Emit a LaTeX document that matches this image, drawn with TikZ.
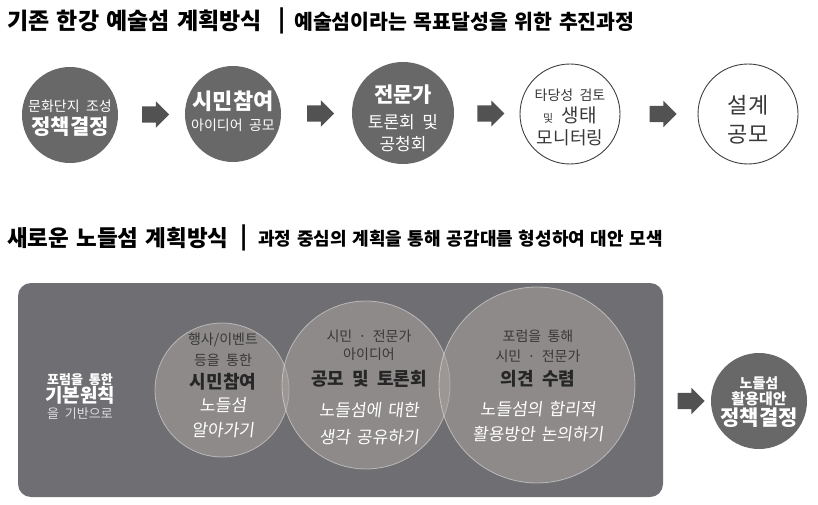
\documentclass[tikz,border=0pt]{standalone}
\usepackage{fontspec}
\setmainfont{Noto Sans CJK KR}[WordSpace=2]
\newfontfamily\headfont{Noto Sans CJK KR}[WordSpace=1.4]
\newfontfamily\handfont{Noto Sans CJK KR}[FakeSlant=0.12,WordSpace=1.6]
\usetikzlibrary{shapes.arrows,calc,positioning}

\definecolor{circgray}{HTML}{686868}
\definecolor{boxgray}{HTML}{6F6F73}
\definecolor{arrowgray}{HTML}{525252}
\definecolor{softgray}{RGB}{172,165,160}
\definecolor{inktext}{HTML}{383838}
\newcommand{\sz}[1]{\fontsize{#1}{#1}\selectfont}

\begin{document}
\begin{tikzpicture}[x=1pt,y=-1pt,
  darkdot/.style={circle, fill=circgray, inner sep=0pt},
  ringdot/.style={circle, draw=black!75, line width=0.9pt, fill=white, inner sep=0pt},
  blockarrow/.style={single arrow, fill=arrowgray, inner xsep=0pt, inner ysep=8pt, minimum height=27pt,
    single arrow head extend=5pt, single arrow tip angle=90},
  forum/.style={circle, fill=softgray, fill opacity=0.5, draw=white,
    draw opacity=0.45, line width=0.8pt, inner sep=0pt},
  heading/.style={anchor=west, inner sep=0pt, font=\headfont\bfseries},
  wtxt/.style={inner sep=0pt, yshift=-2.5pt, text=white},
  dtxt/.style={inner sep=0pt, yshift=-2.5pt, text=inktext},
  btxt/.style={inner sep=0pt, yshift=-2.5pt, text=black!85, font=\sz{18}\bfseries},
  htxt/.style={inner sep=0pt, yshift=-2pt, text=white, font=\handfont\sz{17}}]
\useasboundingbox[fill=white] (0,0) rectangle (818,505);

% top title
\node[heading] (h1) at (7,21) {\sz{23}기존 한강 예술섬 계획방식};
\node[heading] (bar1) at (278,21) {\sz{23}|};
\node[heading] (h1b) at (294,22) {\sz{20.5}예술섬이라는 목표달성을 위한 추진과정};

% old process
\node[darkdot, minimum size=96pt] (c1) at (70,115) {};
\node[darkdot, minimum size=96pt] (c2) at (233,114) {};
\node[darkdot, minimum size=102pt] (c3) at (403,113) {};
\node[ringdot, minimum size=100pt] (c4) at (570,114) {};
\node[ringdot, minimum size=100pt] (c5) at (748,114) {};

\node[wtxt, font=\sz{14}] (c1a) at (70,104) {문화단지 조성};
\node[wtxt, font=\sz{21}\bfseries] (c1b) at (70,124) {정책결정};
\node[wtxt, font=\sz{22}\bfseries] (c2a) at (233,99) {시민참여};
\node[wtxt, font=\sz{14}] (c2b) at (233,123) {아이디어 공모};
\node[wtxt, font=\sz{21}\bfseries] (c3a) at (403,92) {전문가};
\node[wtxt, font=\sz{17}] (c3b) at (403,120) {토론회 및};
\node[wtxt, font=\sz{17}] (c3c) at (403,142) {공청회};
\node[dtxt, font=\sz{14}] (c4a) at (570,93) {타당성 검토};
\node[dtxt, font=\sz{19}] (c4b) at (570,113) {{\sz{11}및} 생태};
\node[dtxt, font=\sz{18}] (c4c) at (570,135) {모니터링};
\node[dtxt, font=\sz{22}] (c5a) at (748,103) {설계};
\node[dtxt, font=\sz{22}] (c5b) at (748,132) {공모};

\node[blockarrow] (a1) at ($(c1.east)!0.5!(c2.west)$) {};
\node[blockarrow] (a2) at ($(c2.east)!0.5!(c3.west)$) {};
\node[blockarrow] (a3) at ($(c3.east)!0.5!(c4.west)$) {};
\node[blockarrow] (a4) at ($(c4.east)!0.5!(c5.west)$) {};

% second title
\node[heading] (h2) at (7,238) {\sz{22.5}새로운 노들섬 계획방식};
\node[heading] (bar2) at (240,238) {\sz{23}|};
\node[heading] (h2b) at (258,239) {\sz{18}과정 중심의 계획을 통해 공감대를 형성하여 대안 모색};

% new process
\node[fill=boxgray, rounded corners=13pt, minimum width=645pt, minimum height=214pt] (panel) at (340.5,390) {};
\node[wtxt, font=\sz{13}\bfseries] (base1) at (80,377) {포럼을 통한};
\node[wtxt, font=\sz{19}\bfseries] (base2) at (80,393) {기본원칙};
\node[wtxt, font=\sz{13}, text=white!75!gray] (base3) at (80,411) {을 기반으로};

\node[forum, minimum size=134pt] (fa) at (222,390) {};
\node[forum, minimum size=168pt] (fb) at (366,385) {};
\node[forum, minimum size=196pt] (fc) at (537,385) {};

\node[dtxt, font=\sz{14}] (fa1) at (223,337) {행사/이벤트};
\node[dtxt, font=\sz{14}] (fa2) at (223,358) {등을 통한};
\node[btxt] (fa3) at (223,379) {시민참여};
\node[htxt] (fa4) at (223,403) {노들섬};
\node[htxt] (fa5) at (223,428) {알아가기};

\node[dtxt, font=\sz{14}] (fb1) at (369,334) {시민 · 전문가};
\node[dtxt, font=\sz{14}] (fb2) at (369,352) {아이디어};
\node[btxt] (fb3) at (369,376) {공모 및 토론회};
\node[htxt] (fb4) at (369,408) {노들섬에 대한};
\node[htxt] (fb5) at (369,435) {생각 공유하기};

\node[dtxt, font=\sz{14}] (fc1) at (538,334) {포럼을 통해};
\node[dtxt, font=\sz{14}] (fc2) at (538,354) {시민 · 전문가};
\node[btxt] (fc3) at (538,376) {의견 수렴};
\node[htxt] (fc4) at (538,407) {노들섬의 합리적};
\node[htxt] (fc5) at (538,432) {활용방안 논의하기};

\node[darkdot, minimum size=96pt] (goal) at (759,401) {};
\node[wtxt, font=\sz{14}\bfseries] (goal1) at (759,381) {노들섬};
\node[wtxt, font=\sz{15}\bfseries] (goal2) at (759,396) {활용대안};
\node[wtxt, font=\sz{21}\bfseries] (goal3) at (759,415) {정책결정};
\node[blockarrow] (a5) at ($(panel.east |- goal)!0.5!(goal.west)$) {};
\end{tikzpicture}
\end{document}
